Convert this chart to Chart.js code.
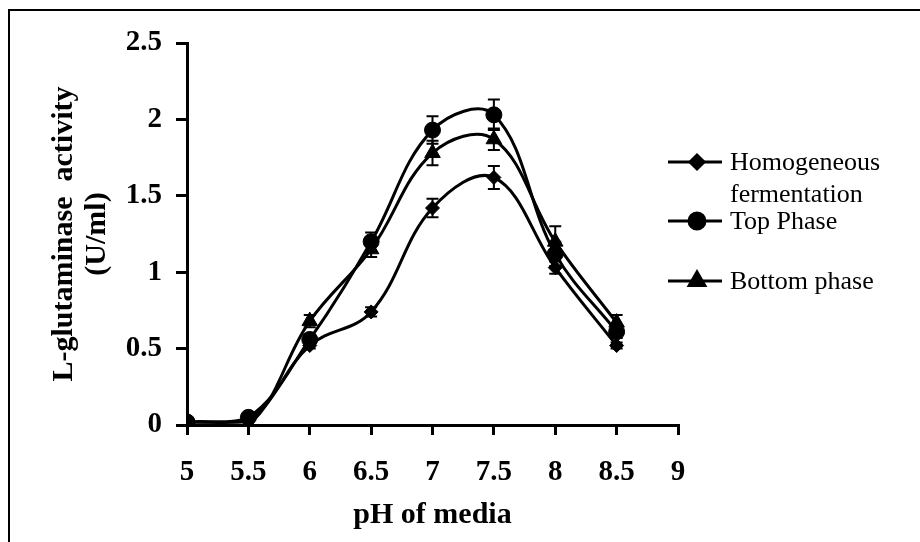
<!DOCTYPE html>
<html>
<head>
<meta charset="utf-8">
<script src="https://cdn.jsdelivr.net/npm/chart.js@4/dist/chart.umd.min.js"></script>
<style>
  body { margin: 0; background: #fff; }
  #wrap { width: 920px; height: 542px; position: relative; }
</style>
</head>
<body>
<div id="wrap"><canvas id="phChart"></canvas></div>
<script>
// pH 값 (x축)
const pH = [5, 5.5, 6, 6.5, 7, 7.5, 8, 8.5];

// 각 시리즈 값, 오차막대
const homogeneous = [0.02, 0.03, 0.52, 0.74, 1.42, 1.62, 1.03, 0.52];
const homErr      = [0, 0, 0.02, 0.03, 0.06, 0.075, 0.04, 0.02];
const topPhase    = [0.02, 0.05, 0.56, 1.2, 1.93, 2.03, 1.12, 0.61];
const topErr      = [0, 0, 0.03, 0.06, 0.09, 0.1, 0.08, 0.04];
const bottomPhase = [0, 0, 0.68, 1.15, 1.78, 1.87, 1.2, 0.67];
const bottomErr   = [0, 0, 0.04, 0.05, 0.08, 0.07, 0.1, 0.05];

const seriesNames = [['Homogeneous', 'fermentation'], ['Top Phase'], ['Bottom phase']];

// 눈금 라벨
const xTicks = ['5', '5.5', '6', '6.5', '7', '7.5', '8', '8.5', '9'];
const yTicks = ['0', '0.5', '1', '1.5', '2', '2.5'];

const serif = '"Liberation Serif", "Times New Roman", serif';

function toPoints(ys) {
    return ys.map((y, i) => ({ x: pH[i], y: y }));
}

const styles = [
    { pointStyle: 'rectRot', radius: 7 },
    { pointStyle: 'circle', radius: 8 },
    { pointStyle: 'triangle', radius: 9 }
];
const errs = [homErr, topErr, bottomErr];

function makeSet(name, ys, i) {
    return {
        label: name.join(' '),
        data: toPoints(ys),
        borderColor: '#000',
        backgroundColor: '#000',
        borderWidth: 3,
        tension: 0.38,
        pointStyle: styles[i].pointStyle,
        pointRadius: styles[i].radius,
        pointBorderWidth: 1,
        pointBackgroundColor: '#000',
        pointBorderColor: '#000'
    };
}

// 오차막대 그리기
const errorBars = {
    id: 'errorBars',
    afterDatasetsDraw(chart) {
        const ctx = chart.ctx;
        const xs = chart.scales.x, ys = chart.scales.y;
        ctx.save();
        ctx.strokeStyle = '#000';
        ctx.lineWidth = 2;
        chart.data.datasets.forEach((ds, i) => {
            ds.data.forEach((p, j) => {
                const e = errs[i][j];
                if (!e) return;
                const px = xs.getPixelForValue(p.x);
                const y1 = ys.getPixelForValue(p.y + e);
                const y2 = ys.getPixelForValue(p.y - e);
                ctx.beginPath();
                ctx.moveTo(px, y1); ctx.lineTo(px, y2);
                ctx.moveTo(px - 6, y1); ctx.lineTo(px + 6, y1);
                ctx.moveTo(px - 6, y2); ctx.lineTo(px + 6, y2);
                ctx.stroke();
            });
        });
        ctx.restore();
    }
};

// 범례 + 테두리
const sideLegend = {
    id: 'sideLegend',
    afterDraw(chart) {
        const ctx = chart.ctx;
        ctx.save();
        // 테두리 (왼쪽, 위)
        ctx.strokeStyle = '#000';
        ctx.lineWidth = 2;
        ctx.beginPath();
        ctx.moveTo(9, 542); ctx.lineTo(9, 10); ctx.lineTo(920, 10);
        ctx.stroke();

        const rows = [162, 221, 281];
        ctx.font = '26px ' + serif;
        ctx.fillStyle = '#000';
        ctx.textBaseline = 'middle';
        seriesNames.forEach((name, i) => {
            const y = rows[i];
            ctx.lineWidth = 3;
            ctx.beginPath();
            ctx.moveTo(668, y); ctx.lineTo(722, y);
            ctx.stroke();
            Chart.helpers.drawPoint(ctx, {
                pointStyle: styles[i].pointStyle,
                radius: styles[i].radius,
                borderWidth: 1,
                rotation: 0
            }, 697, y);
            ctx.fillStyle = '#000';
            name.forEach((t, k) => ctx.fillText(t, 730, y + 1 + k * 32));
        });
        ctx.restore();
    }
};

const chart = new Chart(document.getElementById('phChart'), {
    type: 'line',
    data: {
        datasets: seriesNames.map((n, i) => makeSet(n, [homogeneous, topPhase, bottomPhase][i], i))
    },
    options: {
        responsive: true,
        maintainAspectRatio: false,
        animation: false,
        layout: { padding: { left: 48, right: 242, top: 43, bottom: 9 } },
        plugins: {
            legend: { display: false },
            tooltip: { enabled: false }
        },
        scales: {
            x: {
                type: 'linear',
                min: 5, max: 9,
                afterFit(s) { s.height = 542 - 9 - 425; },
                ticks: {
                    stepSize: 0.5,
                    color: '#000',
                    padding: 20,
                    font: { family: serif, size: 29, weight: 'bold' },
                    callback: (v) => xTicks[Math.round((v - 5) / 0.5)]
                },
                grid: { drawOnChartArea: false, drawTicks: true, tickLength: 10, color: '#000', lineWidth: 3 },
                border: { color: '#000', width: 3 },
                title: {
                    display: true,
                    text: 'pH of media',
                    color: '#000',
                    padding: { top: 0, bottom: 0 },
                    font: { family: serif, size: 30, weight: 'bold', lineHeight: 1.2 }
                }
            },
            y: {
                min: 0, max: 2.5,
                afterFit(s) { s.width = 187 - 48; },
                ticks: {
                    stepSize: 0.5,
                    color: '#000',
                    padding: 14,
                    font: { family: serif, size: 29, weight: 'bold' },
                    callback: (v) => yTicks[Math.round(v / 0.5)]
                },
                grid: { drawOnChartArea: false, drawTicks: true, tickLength: 11, color: '#000', lineWidth: 3 },
                border: { color: '#000', width: 3 },
                title: {
                    display: true,
                    text: ['L-glutaminase  activity', '(U/ml)'],
                    color: '#000',
                    padding: { top: 0, bottom: 0 },
                    font: { family: serif, size: 30, weight: 'bold', lineHeight: 1.1 }
                }
            }
        }
    },
    plugins: [errorBars, sideLegend]
});
</script>
</body>
</html>
